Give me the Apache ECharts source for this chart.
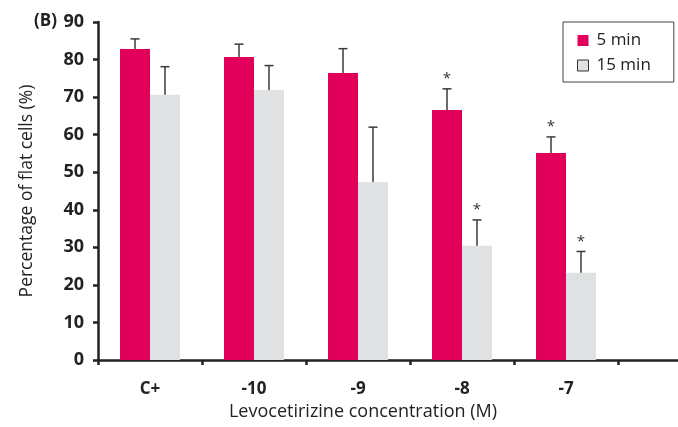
<!DOCTYPE html>
<html>
<head>
<meta charset="utf-8">
<script src="https://cdn.jsdelivr.net/npm/echarts@6/dist/echarts.min.js"></script>
<style>html,body{margin:0;padding:0;background:#fff}#c{width:678px;height:427px}</style>
</head>
<body>
<div id="c"></div>
<script>
const categories = ['C+', '-10', '-9', '-8', '-7', ''];
const min5 = [82.8, 80.7, 76.4, 66.6, 55.1];
const min5Err = [2.7, 3.4, 6.5, 5.6, 4.3];
const min5Sig = [false, false, false, true, true];
const min15 = [70.6, 71.9, 47.4, 30.4, 23.2];
const min15Err = [7.5, 6.5, 14.6, 6.9, 5.7];
const min15Sig = [false, false, false, true, true];
const yTicks = [0, 10, 20, 30, 40, 50, 60, 70, 80, 90];

const FONT = '"Open Sans", "Noto Sans", sans-serif';
const RED = '#E1005A';
const GREY = '#E0E1E3';
const BAR_W = 30;

function errSeries(name, vals, errs, sig, offset) {
  return {
    type: 'custom',
    name: name + ' err',
    z: 5,
    data: vals.map((v, i) => [i, v, v + errs[i], sig[i] ? 1 : 0]),
    renderItem: function (params, api) {
      const base = api.coord([api.value(0), api.value(1)]);
      const top = api.coord([api.value(0), api.value(2)]);
      const x = base[0] + offset;
      const children = [
        { type: 'line', shape: { x1: x, y1: base[1], x2: x, y2: top[1] }, style: { stroke: '#3a3a3a', lineWidth: 1.5 } },
        { type: 'line', shape: { x1: x - 4.5, y1: top[1], x2: x + 4.5, y2: top[1] }, style: { stroke: '#3a3a3a', lineWidth: 1.5 } }
      ];
      if (api.value(3)) {
        children.push({ type: 'text', style: { x: x, y: top[1] - 10, text: '*', fill: '#333', font: '15px ' + FONT, align: 'center', verticalAlign: 'middle' } });
      }
      return { type: 'group', children: children };
    }
  };
}

const chart = echarts.init(document.getElementById('c'));
chart.setOption({
  animation: false,
  title: [
    { text: '(B)', left: 29, top: 8, textStyle: { fontFamily: FONT, fontSize: 17, fontWeight: 'bold', color: '#222' } },
    { text: 'Levocetirizine concentration (M)', left: 358, top: 398, textAlign: 'center', textStyle: { fontFamily: FONT, fontSize: 18, fontWeight: 'normal', color: '#222' } }
  ],
  legend: {
    left: 563, top: 22,
    orient: 'vertical',
    itemWidth: 11, itemHeight: 11, itemGap: 8,
    padding: [10, 23, 8, 14],
    borderColor: '#444', borderWidth: 1,
    textStyle: { fontFamily: FONT, fontSize: 17, color: '#222', padding: [0, 0, 0, 3] },
    data: [
      { name: '5 min', icon: 'rect' },
      { name: '15 min', icon: 'rect', itemStyle: { color: GREY, borderColor: '#333', borderWidth: 1 } }
    ]
  },
  grid: { left: 98, top: 22, width: 624, height: 338, outerBoundsMode: 'none', containLabel: false },
  xAxis: {
    type: 'category',
    data: categories,
    axisLine: { lineStyle: { color: '#222', width: 2.5 } },
    axisTick: { show: true, length: 5, lineStyle: { color: '#222', width: 2.5 } },
    axisLabel: { margin: 21, fontFamily: FONT, fontSize: 17, fontWeight: 'bold', color: '#222' }
  },
  yAxis: {
    type: 'value', min: 0, max: 90, interval: 10,
    name: 'Percentage of flat cells (%)',
    nameLocation: 'middle', nameGap: 62,
    nameTextStyle: { fontFamily: FONT, fontSize: 17.5, color: '#222' },
    axisLine: { show: true, lineStyle: { color: '#222', width: 2.5 } },
    axisTick: { show: true, length: 5, lineStyle: { color: '#222', width: 2.5 } },
    axisLabel: { margin: 14, fontFamily: FONT, fontSize: 18, fontWeight: 'bold', color: '#222',
      formatter: v => yTicks.includes(v) ? String(v) : '' },
    splitLine: { show: false }
  },
  series: [
    { name: '5 min', type: 'bar', data: min5, barWidth: BAR_W, barGap: '0%', itemStyle: { color: RED } },
    { name: '15 min', type: 'bar', data: min15, barWidth: BAR_W, barGap: '0%', itemStyle: { color: GREY } },
    errSeries('5 min', min5, min5Err, min5Sig, -BAR_W / 2),
    errSeries('15 min', min15, min15Err, min15Sig, BAR_W / 2)
  ]
});
</script>
</body>
</html>
